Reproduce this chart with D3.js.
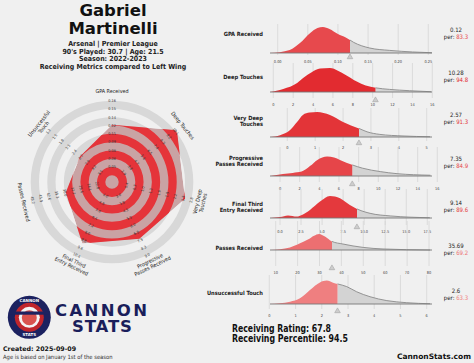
<!DOCTYPE html>
<html><head><meta charset="utf-8">
<script src="https://cdn.jsdelivr.net/npm/d3@7"></script>
<style>body{margin:0;background:#f0f0f0}svg{display:block}</style>
</head><body>
<svg id="c" width="474" height="363"></svg>
<script>
// ---------------- DATA ----------------
const metrics = ["GPA Received","Deep Touches","Very Deep Touches","Progressive Passes Received","Final Third Entry Received","Passes Received","Unsuccessful Touch"];
const radarNames = [["GPA Received"],["Deep Touches"],["Very Deep","Touches"],["Progressive","Passes Received"],["Final Third","Entry Received"],["Passes Received"],["Unsuccessful","Touch"]];
const rowNames = [["GPA Received"],["Deep Touches"],["Very Deep","Touches"],["Progressive","Passes Received"],["Final Third","Entry Received"],["Passes Received"],["Unsuccessful Touch"]];
const playerValues = [0.12, 10.28, 2.57, 7.35, 9.14, 35.69, 2.6];
const valueLabels = ["0.12","10.28","2.57","7.35","9.14","35.69","2.6"];
const percentiles = [83.3, 94.8, 91.3, 84.9, 89.6, 69.2, 63.3];

// radar ring labels (inner -> outer)
const ringGPA    = [0.05,0.06,0.08,0.09,0.11,0.12,0.14,0.15,0.16];
const ringDeep   = [2.9,3.8,4.7,5.6,6.5,7.4,8.3,9.2,10.1];
const ringVDeep  = [0.4,0.7,1.0,1.3,1.6,1.9,2.2,2.5,2.8];
const ringProg   = [3.0,3.8,4.5,5.3,6.0,6.8,7.5,8.3,9.0];
const ringFinal  = [4.0,4.8,5.6,6.4,7.2,8.0,8.8,9.6,10.4];
const ringPasses = [22.8,26.1,29.4,32.7,36.0,39.3,42.6,45.9,49.2];
const ringUnsucc = [3.5,3.2,2.9,2.7,2.4,2.1,1.8,1.5,1.2];
const ringTicks = [ringGPA, ringDeep, ringVDeep, ringProg, ringFinal, ringPasses, ringUnsucc];
const ringFmt = [".2f",".1f",".1f",".1f",".1f",".1f",".1f"];

// density axis ticks
const ticksGPA    = [0,0.05,0.10,0.15,0.20,0.25];
const ticksDeep   = [0,2,4,6,8,10,12,14,16];
const ticksVDeep  = [0,1,2,3,4,5];
const ticksProg   = [0,2,4,6,8,10,12,14,16];
const ticksFinal  = [0,2.5,5,7.5,10,12.5,15,17.5];
const ticksPasses = [10,20,30,40,50,60,70,80];
const ticksUnsucc = [0,1,2,3,4,5,6];
const axisTicks = [ticksGPA, ticksDeep, ticksVDeep, ticksProg, ticksFinal, ticksPasses, ticksUnsucc];
const tickFmt = [".2f","d","d","d",".1f","d","d"];

// density estimates [value, relative density 0-100]
const densGPA = [[-0.013,0],[0.020,12],[0.037,38],[0.054,77],[0.066,96],[0.075,100],[0.086,92],[0.100,73],[0.113,60],[0.126,41],[0.153,19],[0.186,10],[0.224,4],[0.256,1]];
const densDeep = [[-0.33,0],[1.0,12],[2.4,35],[3.0,54],[3.9,77],[4.7,90],[5.7,92],[6.5,82],[7.2,67],[8.4,40],[9.3,25],[10.3,16],[11.7,10],[13.7,5],[15.9,1]];
const densVDeep = [[-0.62,0],[-0.26,7],[0.10,27],[0.35,58],[0.56,85],[0.8,94],[1.07,96],[1.3,92],[1.53,85],[2.0,58],[2.57,33],[2.86,20],[3.32,10],[4.15,4],[5.12,1]];
const densProg = [[-1.0,0],[0.3,8],[1.3,12],[2.2,17],[3.05,38],[3.8,62],[4.8,75],[5.5,71],[6.1,62],[7.4,42],[8.4,30],[10.2,17],[11.9,9],[15.3,3]];
const densFinal = [[-1.19,0],[0,4],[0.95,10],[2.0,6],[2.6,12],[3.56,31],[4.75,63],[5.94,85],[7.13,76],[8.3,50],[9.27,33],[10.7,18],[13.1,8],[17.8,1]];
const densPasses = [[7.4,0],[16.5,10],[21.1,26],[24.7,40],[27.5,55],[29.8,62],[32.5,52],[35.7,33],[40.7,23],[49.9,10],[59,4],[80.5,0]];
const densUnsucc = [[0,0],[0.79,9],[1.17,22],[1.55,54],[1.93,83],[2.19,90],[2.43,82],[2.61,77],[2.95,67],[3.33,47],[3.84,28],[4.48,13],[5.24,5],[6.13,1]];
const densities = [densGPA, densDeep, densVDeep, densProg, densFinal, densPasses, densUnsucc];

// ---------------- LAYOUT ----------------
const svg = d3.select("#c");
const BG = "#f0f0f0";
svg.append("rect").attr("width",474).attr("height",363).attr("fill",BG);
const narrow = "'Liberation Sans Narrow','DejaVu Sans Condensed','Roboto',sans-serif";
const heavy = "'DejaVu Sans','Roboto',sans-serif";

// Title
const tg = svg.append("g").attr("text-anchor","middle").attr("fill","#111");
tg.append("text").attr("x",113).attr("y",15.5).attr("font-family",heavy).attr("font-weight","bold").attr("font-size",16.5).text("Gabriel");
tg.append("text").attr("x",113).attr("y",34).attr("font-family",heavy).attr("font-weight","bold").attr("font-size",16.5).text("Martinelli");
const sub = ["Arsenal | Premier League","90's Played: 30.7 | Age: 21.5","Season: 2022-2023","Receiving Metrics compared to Left Wing"];
sub.forEach((s,i)=>tg.append("text").attr("x",113).attr("y",46+i*7.5).attr("font-family",narrow).attr("font-weight","bold").attr("font-size",7.0).attr("fill","#222").text(s));

// ---------------- RADAR ----------------
const cx=112, cy=182, r0=6.7, bw=8.29, nb=9, R=r0+nb*bw;
const n = metrics.length;
const ang = i => i*2*Math.PI/n;
const pt = (i,r)=>[cx+r*Math.sin(ang(i)), cy-r*Math.cos(ang(i))];
const rScales = ringTicks.map(t=>d3.scaleLinear().domain([t[0],t[t.length-1]]).range([r0+bw,R]));
const polyPts = playerValues.map((v,i)=>pt(i,rScales[i](v)));
const arc = d3.arc();
const rg = svg.append("g");
const bands = d3.range(nb).filter(b=>b%2===0);
bands.forEach(b=>{
  rg.append("path").attr("transform",`translate(${cx},${cy})`)
    .attr("d",arc({innerRadius:r0+b*bw,outerRadius:r0+(b+1)*bw,startAngle:0,endAngle:2*Math.PI}))
    .attr("fill","#d8d8d8");
});
const defs = svg.append("defs");
defs.append("clipPath").attr("id","rclip").append("path").attr("d",d3.line()(polyPts)+"Z");
const inner = rg.append("g").attr("clip-path","url(#rclip)");
inner.append("path").attr("d",d3.line()(polyPts)+"Z").attr("fill","#c9a3a4");
bands.forEach(b=>{
  inner.append("path").attr("transform",`translate(${cx},${cy})`)
    .attr("d",arc({innerRadius:r0+b*bw,outerRadius:r0+(b+1)*bw,startAngle:0,endAngle:2*Math.PI}))
    .attr("fill","#e5343a");
});
function rot(i){
  const a = ang(i)*180/Math.PI;
  if (a===0) return 0;
  if (a>90 && a<270) return a-180;
  if (a>=270) return a-360;
  return a;
}
// ring labels
ringTicks.forEach((t,i)=>{
  const f = d3.format(ringFmt[i]);
  t.forEach((v,k)=>{
    const [x,y]=pt(i,r0+(k+1)*bw);
    rg.append("text").attr("transform",`translate(${x},${y}) rotate(${rot(i)})`)
      .attr("text-anchor","middle").attr("dy","0.35em").attr("font-family",narrow)
      .attr("font-size",3.8).attr("fill","#333").text(f(v));
  });
});
// axis names
radarNames.forEach((lines,i)=>{
  const [x,y]=pt(i, 90.5);
  const t = rg.append("text").attr("transform",`translate(${x},${y}) rotate(${rot(i)})`)
    .attr("text-anchor","middle").attr("font-family",narrow).attr("font-size",5.4).attr("fill","#222");
  const lh = 5.8;
  lines.forEach((l,j)=>{
    t.append("tspan").attr("x",0).attr("y",(j-(lines.length-1)/2)*lh).attr("dy","0.35em").text(l);
  });
});

// ---------------- LOGO ----------------
const lg = svg.append("g");
lg.append("circle").attr("cx",29.3).attr("cy",317.3).attr("r",21.5).attr("fill","#1c2260");
lg.append("circle").attr("cx",29.3).attr("cy",317.3).attr("r",14.5).attr("fill","#c0262c");
lg.append("circle").attr("cx",29.3).attr("cy",317.3).attr("r",10.5).attr("fill","#f4f4f4");
lg.append("circle").attr("cx",29.3).attr("cy",317.8).attr("r",7.5).attr("fill","#d9534f");
lg.append("rect").attr("x",10).attr("y",311.5).attr("width",40).attr("height",3.2).attr("fill","#1c2260");
lg.append("text").attr("x",29.3).attr("y",302.3).attr("text-anchor","middle").attr("font-family",heavy).attr("font-weight","bold").attr("font-size",4).attr("fill","#fff").text("CANNON");
lg.append("text").attr("x",29.3).attr("y",336.2).attr("text-anchor","middle").attr("font-family",heavy).attr("font-weight","bold").attr("font-size",4).attr("fill","#fff").text("STATS");
lg.append("text").attr("x",55).attr("y",315.5).attr("font-family",heavy).attr("font-weight","bold").attr("font-size",16.5).attr("fill","#1a1e5b").attr("textLength",92).attr("lengthAdjust","spacing").text("CANNON");
lg.append("text").attr("x",72).attr("y",332).attr("font-family",heavy).attr("font-weight","bold").attr("font-size",16.5).attr("fill","#1a1e5b").attr("textLength",60).attr("lengthAdjust","spacing").text("STATS");
svg.append("text").attr("x",3).attr("y",350.5).attr("font-family",heavy).attr("font-weight","bold").attr("font-size",6.3).attr("fill","#111").text("Created: 2025-09-09");
svg.append("text").attr("x",3).attr("y",358.8).attr("font-family",narrow).attr("font-size",5.8).attr("fill","#333").text("Age is based on January 1st of the season");

// ---------------- DENSITY ROWS ----------------
const baselines = [53,92,137,176,218,250,304];
const tickYs = [62,105,148,189,232,273,316];
const labelYs = [34,77,121,161,207,248,293];
const valueYs = [30,73,115,159,203,246,291];
const xRanges = [[277.7,428.3],[273.3,432.3],[287.3,426.7],[280,437.3],[280,427.3],[275.7,429],[269.3,426.7]];
const plotL = 270, plotR = 432;
const yD = d3.scaleLinear().domain([0,100]).range([0,26]);
const pColor = d3.scaleLinear().domain([60,95]).range(["#f08888","#e22a2f"]).clamp(true);

const dg = svg.append("g");
densities.forEach((dens,i)=>{
  const ticks = axisTicks[i];
  const x = d3.scaleLinear().domain([ticks[0],ticks[ticks.length-1]]).range(xRanges[i]);
  const base = baselines[i];
  const g = dg.append("g");
  ticks.forEach(t=>{
    g.append("line").attr("x1",x(t)).attr("x2",x(t)).attr("y1",base-29).attr("y2",tickYs[i]-7)
      .attr("stroke","#d6d6d6").attr("stroke-width",0.8);
  });
  const px = x(playerValues[i]);
  defs.append("clipPath").attr("id","L"+i).append("rect").attr("x",0).attr("y",0).attr("width",px).attr("height",363);
  defs.append("clipPath").attr("id","Rc"+i).append("rect").attr("x",px).attr("y",0).attr("width",474-px).attr("height",363);
  const area = d3.area().x(d=>x(d[0])).y0(base).y1(d=>base-yD(d[1])).curve(d3.curveMonotoneX);
  const line = d3.line().x(d=>x(d[0])).y(d=>base-yD(d[1])).curve(d3.curveMonotoneX);
  g.append("path").attr("d",area(dens)).attr("fill","#d3d3d3").attr("clip-path",`url(#Rc${i})`);
  g.append("path").attr("d",line(dens)).attr("fill","none").attr("stroke","#8a8a8a").attr("stroke-width",0.9).attr("clip-path",`url(#Rc${i})`);
  g.append("path").attr("d",area(dens)).attr("fill",pColor(percentiles[i])).attr("clip-path",`url(#L${i})`);
  g.append("line").attr("x1",plotL).attr("x2",plotR).attr("y1",base).attr("y2",base).attr("stroke","#777").attr("stroke-width",0.9);
  const ty = tickYs[i]-5.5;
  g.append("path").attr("d",`M${px},${ty-2.6}L${px+2.8},${ty+2.2}L${px-2.8},${ty+2.2}Z`)
    .attr("fill","#cdcdcd").attr("stroke","#a5a5a5").attr("stroke-width",0.6);
  const f = d3.format(tickFmt[i]);
  ticks.forEach(t=>{
    g.append("text").attr("x",x(t)).attr("y",tickYs[i]).attr("dy","0.35em").attr("text-anchor","middle")
      .attr("font-family",narrow).attr("font-size",3.9).attr("fill","#444").text(f(t));
  });
  const lt = g.append("text").attr("x",263).attr("text-anchor","end").attr("font-family",narrow)
    .attr("font-weight","bold").attr("font-size",5.7).attr("fill","#222");
  rowNames[i].forEach((l,j,arr)=>{
    lt.append("tspan").attr("x",263).attr("y",labelYs[i]+(j-(arr.length-1)/2)*6.8).attr("dy","0.35em").text(l);
  });
  g.append("text").attr("x",456).attr("y",valueYs[i]).attr("dy","0.35em").attr("text-anchor","middle")
    .attr("font-family",narrow).attr("font-size",6).attr("fill","#222").text(valueLabels[i]);
  const pt2 = g.append("text").attr("x",456).attr("y",valueYs[i]+7).attr("dy","0.35em").attr("text-anchor","middle")
    .attr("font-family",narrow).attr("font-size",6).attr("fill","#222");
  pt2.append("tspan").text("per: ");
  pt2.append("tspan").attr("fill",pColor(percentiles[i])).text(d3.format(".1f")(percentiles[i]));
});

svg.append("text").attr("x",232).attr("y",331.5).attr("font-family",heavy).attr("font-weight","bold").attr("font-size",10).attr("fill","#111").attr("textLength",99).attr("lengthAdjust","spacingAndGlyphs").text("Receiving Rating: 67.8");
svg.append("text").attr("x",232).attr("y",341.8).attr("font-family",heavy).attr("font-weight","bold").attr("font-size",10).attr("fill","#111").attr("textLength",116).attr("lengthAdjust","spacingAndGlyphs").text("Receiving Percentile: 94.5");
svg.append("text").attr("x",471).attr("y",359).attr("text-anchor","end").attr("font-family",heavy).attr("font-weight","bold").attr("font-size",7.5).attr("fill","#111").text("CannonStats.com");
</script>
</body></html>
